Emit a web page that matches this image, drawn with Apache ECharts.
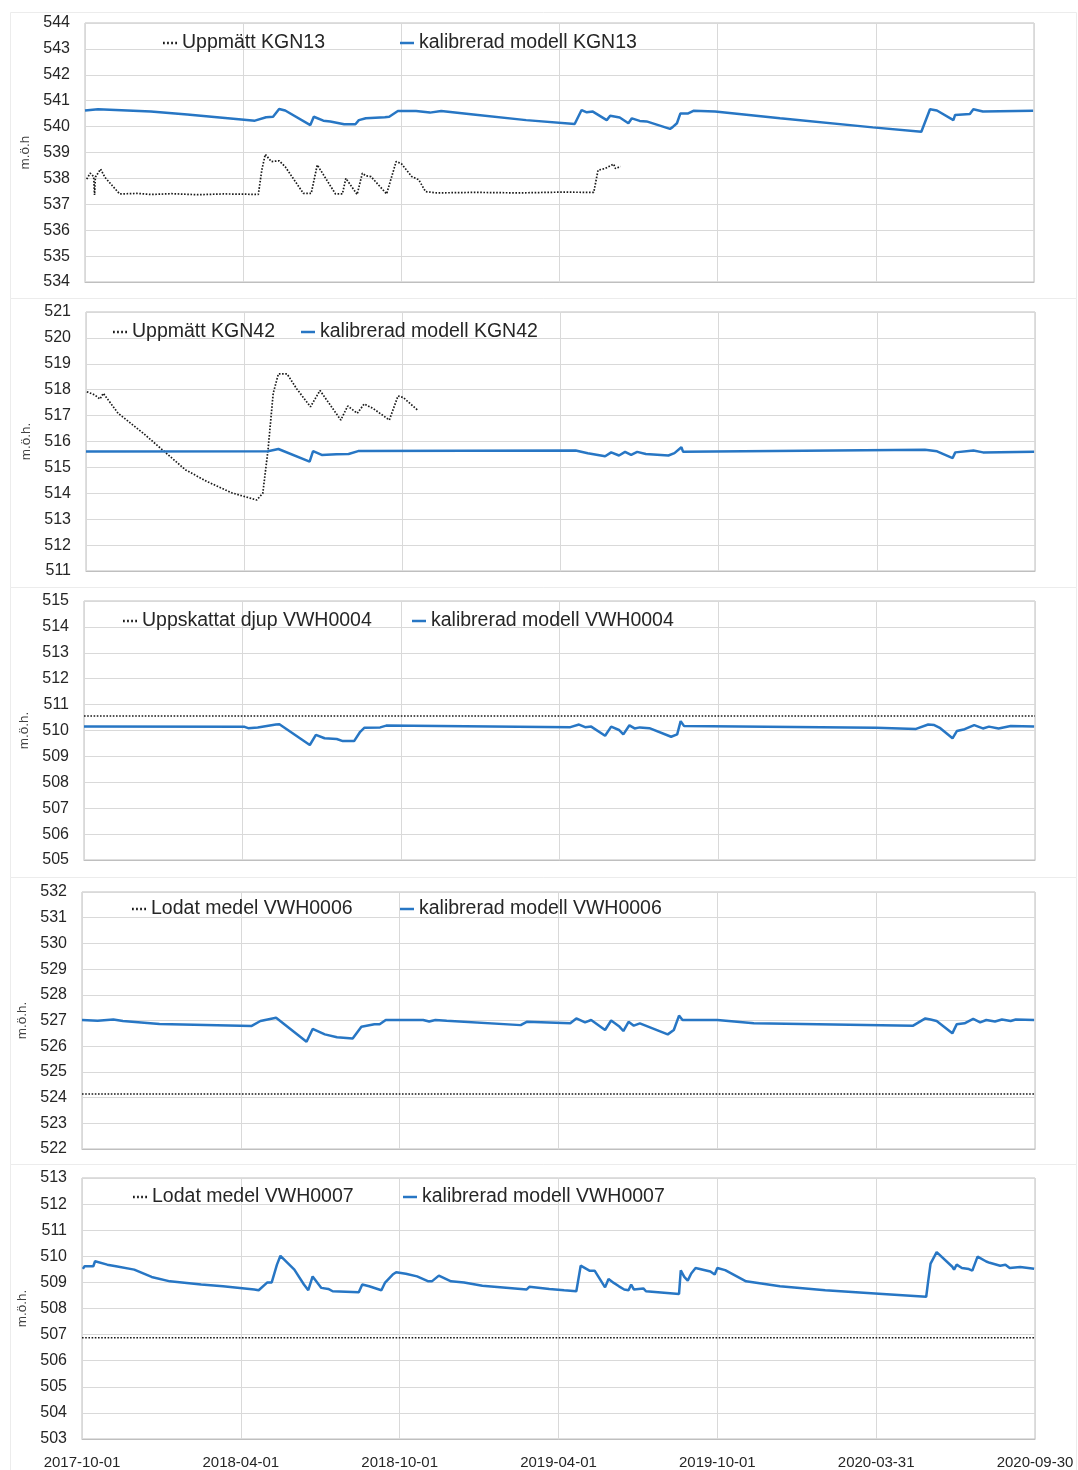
<!DOCTYPE html>
<html>
<head>
<meta charset="utf-8">
<script src="https://cdn.jsdelivr.net/npm/echarts@6/dist/echarts.min.js"></script>
<style>
html,body{margin:0;padding:0;background:#fff;}
#c{width:1078px;height:1470px;}
</style>
</head>
<body>
<div id="c"></div>
<script>
// x values are days since 2017-10-01
const startDate = Date.UTC(2017, 9, 1);
const xTickDates = ['2017-10-01','2018-04-01','2018-10-01','2019-04-01','2019-10-01','2020-03-31','2020-09-30'];

// Panel 1: KGN13
const kgn13Measured = [[2,537.97],[6,538.20],[10,538.07],[11,537.36],[12,538.05],[13,538.05],[18,538.36],[23,538.04],[40,537.40],[60,537.42],[76,537.38],[100,537.41],[130,537.37],[160,537.40],[185,537.39],[200,537.38],[204,538.32],[208,538.93],[215,538.65],[224,538.68],[231,538.45],[252,537.42],[261,537.42],[268,538.52],[289,537.40],[297,537.40],[301,538.00],[314,537.38],[320,538.20],[324,538.10],[330,538.07],[348,537.40],[359,538.65],[365,538.57],[377,538.07],[385,537.95],[393,537.49],[406,537.44],[450,537.46],[500,537.44],[550,537.47],[587,537.46],[592,538.32],[600,538.38],[610,538.55],[612,538.38],[618,538.46]];
const kgn13Model = [[0,540.62],[15,540.67],[76,540.58],[118,540.47],[196,540.23],[209,540.36],[217,540.38],[224,540.68],[231,540.62],[260,540.06],[264,540.38],[275,540.23],[283,540.20],[299,540.09],[312,540.09],[316,540.25],[324,540.32],[346,540.36],[351,540.38],[361,540.60],[382,540.60],[398,540.54],[411,540.60],[448,540.47],[509,540.25],[565,540.10],[573,540.64],[579,540.55],[586,540.58],[602,540.25],[606,540.42],[617,540.35],[627,540.13],[631,540.32],[640,540.22],[648,540.20],[675,539.91],[678,539.98],[683,540.13],[687,540.51],[696,540.51],[702,540.61],[727,540.58],[729,540.61],[802,540.32],[909,539.97],[965,539.80],[975,540.67],[983,540.62],[1002,540.25],[1004,540.45],[1021,540.49],[1025,540.67],[1036,540.58],[1094,540.61]];

// Panel 2: KGN42
const kgn42Measured = [[1,517.92],[10,517.80],[16,517.64],[20,517.86],[37,517.09],[66,516.32],[86,515.74],[115,514.90],[140,514.45],[168,514.02],[197,513.74],[204,514.00],[210,515.67],[216,517.86],[222,518.61],[232,518.61],[243,518.04],[259,517.34],[270,517.97],[294,516.83],[302,517.37],[313,517.09],[321,517.45],[331,517.28],[350,516.83],[360,517.76],[366,517.70],[383,517.20]];
const kgn42Model = [[0,515.61],[210,515.62],[222,515.71],[258,515.22],[262,515.63],[272,515.48],[289,515.51],[303,515.52],[314,515.63],[565,515.65],[579,515.55],[599,515.43],[606,515.58],[615,515.46],[622,515.60],[629,515.48],[636,515.60],[646,515.52],[672,515.46],[679,515.55],[687,515.78],[689,515.60],[968,515.68],[982,515.62],[1000,515.36],[1003,515.58],[1024,515.65],[1035,515.58],[1094,515.60]];

// Panel 3: VWH0004
const vwh0004Estimated = 510.56;
const vwh0004Model = [[0,510.15],[185,510.14],[189,510.09],[200,510.12],[221,510.23],[225,510.24],[260,509.44],[267,509.83],[277,509.70],[291,509.67],[298,509.59],[311,509.59],[318,509.95],[323,510.11],[341,510.12],[348,510.19],[560,510.13],[570,510.23],[577,510.13],[584,510.15],[600,509.80],[607,510.15],[616,510.02],[621,509.85],[628,510.20],[634,510.08],[640,510.12],[651,510.09],[676,509.76],[683,509.85],[687,510.36],[691,510.17],[912,510.11],[958,510.06],[972,510.23],[979,510.21],[986,510.09],[1000,509.70],[1005,509.98],[1014,510.05],[1025,510.21],[1035,510.08],[1042,510.15],[1053,510.08],[1067,510.17],[1094,510.15]];

// Panel 4: VWH0006
const vwh0006Measured = 524.14;
const vwh0006Model = [[0,527.02],[18,526.99],[36,527.04],[47,526.98],[89,526.86],[195,526.79],[205,526.98],[223,527.11],[258,526.17],[265,526.67],[279,526.46],[293,526.35],[311,526.30],[321,526.76],[336,526.85],[342,526.85],[349,527.02],[392,527.02],[399,526.96],[406,527.02],[419,526.99],[504,526.82],[511,526.95],[561,526.89],[568,527.08],[578,526.93],[585,527.02],[601,526.63],[608,527.00],[617,526.78],[622,526.59],[628,526.95],[634,526.80],[641,526.89],[673,526.46],[680,526.63],[686,527.19],[690,527.02],[730,527.02],[772,526.89],[955,526.80],[969,527.08],[975,527.04],[982,526.98],[1000,526.50],[1005,526.85],[1014,526.89],[1024,527.06],[1032,526.93],[1039,527.02],[1049,526.96],[1057,527.04],[1067,526.98],[1073,527.04],[1094,527.02]];

// Panel 5: VWH0007
const vwh0007Measured = 506.88;
const vwh0007Model = [[1,509.52],[3,509.62],[13,509.62],[15,509.81],[29,509.68],[39,509.62],[60,509.49],[80,509.21],[101,509.04],[137,508.92],[162,508.85],[198,508.73],[203,508.70],[213,509.00],[218,509.00],[224,509.68],[228,510.02],[244,509.49],[255,508.92],[260,508.70],[265,509.23],[275,508.79],[283,508.75],[288,508.66],[318,508.62],[322,508.92],[330,508.85],[344,508.70],[348,508.98],[357,509.30],[361,509.39],[372,509.33],[385,509.23],[398,509.04],[402,509.04],[410,509.26],[424,509.04],[439,509.00],[460,508.87],[511,508.73],[514,508.83],[537,508.75],[554,508.70],[556,508.66],[568,508.66],[573,509.64],[583,509.45],[589,509.45],[601,508.81],[605,509.13],[611,508.98],[617,508.85],[623,508.73],[628,508.70],[631,508.92],[634,508.73],[645,508.77],[648,508.66],[686,508.56],[688,509.46],[692,509.21],[696,509.07],[700,509.34],[705,509.55],[722,509.42],[727,509.30],[730,509.55],[739,509.47],[763,509.04],[802,508.85],[854,508.70],[920,508.56],[970,508.45],[972,508.98],[975,509.72],[982,510.16],[1000,509.60],[1002,509.49],[1005,509.68],[1011,509.55],[1019,509.51],[1023,509.45],[1029,509.99],[1039,509.80],[1043,509.75],[1055,509.64],[1061,509.68],[1066,509.55],[1078,509.59],[1094,509.52]];

const panels = [
  {dotName:'Uppmätt KGN13', modelName:'kalibrerad modell KGN13', dot:kgn13Measured, model:kgn13Model, yMin:534, yMax:544, yName:'m.ö.h',
   grid:{left:85,right:44,top:23,height:259}, legDot:163, legModel:400, legY:33},
  {dotName:'Uppmätt KGN42', modelName:'kalibrerad modell KGN42', dot:kgn42Measured, model:kgn42Model, yMin:511, yMax:521, yName:'m.ö.h.',
   grid:{left:86,right:43,top:312,height:259}, legDot:113, legModel:301, legY:322},
  {dotName:'Uppskattat djup VWH0004', modelName:'kalibrerad modell VWH0004', dot:vwh0004Estimated, model:vwh0004Model, yMin:505, yMax:515, yName:'m.ö.h.',
   grid:{left:84,right:43,top:601,height:259}, legDot:123, legModel:412, legY:611},
  {dotName:'Lodat medel VWH0006', modelName:'kalibrerad modell VWH0006', dot:vwh0006Measured, model:vwh0006Model, yMin:522, yMax:532, yName:'m.ö.h.',
   grid:{left:82,right:43,top:892,height:257}, legDot:132, legModel:400, legY:899},
  {dotName:'Lodat medel VWH0007', modelName:'kalibrerad modell VWH0007', dot:vwh0007Measured, model:vwh0007Model, yMin:503, yMax:513, yName:'m.ö.h.',
   grid:{left:82,right:43,top:1178,height:262}, legDot:133, legModel:403, legY:1187}
];

const X_MAX = 1095;
const FONT = '"Liberation Sans", Arial, sans-serif';
const TXT = '#262626';
const BLUE = '#2776c4';

function fmtDate(v){
  const d = new Date(startDate + Math.floor(v + 1e-6) * 86400000);
  const m = String(d.getUTCMonth()+1).padStart(2,'0');
  const dd = String(d.getUTCDate()).padStart(2,'0');
  return d.getUTCFullYear() + '-' + m + '-' + dd;
}

const grids = [], xAxes = [], yAxes = [], series = [], legends = [];
panels.forEach((p, i) => {
  grids.push(Object.assign({show:true, borderColor:'#bfbfbf', borderWidth:1, backgroundColor:'transparent'}, p.grid));
  const last = i === panels.length - 1;
  xAxes.push({
    type:'value', gridIndex:i, min:0, max:X_MAX, interval:182.5,
    axisLine:{show:true, lineStyle:{color:'#bfbfbf', width:1}},
    axisTick:{show:false},
    splitLine:{show:true, lineStyle:{color:'#d9d9d9', width:1}},
    axisLabel:{show:last, fontFamily:FONT, fontSize:15, color:TXT, margin:16, formatter:fmtDate, showMinLabel:true, showMaxLabel:true}
  });
  yAxes.push({
    type:'value', gridIndex:i, min:p.yMin, max:p.yMax, interval:1,
    name:p.yName, nameLocation:'middle', nameGap:45, nameRotate:90,
    nameTextStyle:{fontFamily:FONT, fontSize:13.5, color:'#404040'},
    axisLine:{show:false}, axisTick:{show:false},
    splitLine:{show:true, lineStyle:{color:'#d9d9d9', width:1}},
    axisLabel:{fontFamily:FONT, fontSize:16, color:TXT, margin:15, lineHeight:16, padding:[7,0,0,0]}
  });
  const dotData = Array.isArray(p.dot) ? p.dot : [[0, p.dot], [X_MAX, p.dot]];
  series.push({
    name:p.dotName, type:'line', xAxisIndex:i, yAxisIndex:i, data:dotData,
    showSymbol:false, symbol:'none', silent:true, animation:false,
    lineStyle:{color:'#1a1a1a', width:1.7, type:[1.6,1.6]}, itemStyle:{color:'#1a1a1a'}
  });
  series.push({
    name:p.modelName, type:'line', xAxisIndex:i, yAxisIndex:i, data:p.model,
    showSymbol:false, symbol:'none', silent:true, animation:false,
    lineStyle:{color:BLUE, width:2.5}, itemStyle:{color:BLUE}
  });
  const legBase = {orient:'horizontal', padding:0, itemWidth:14, itemHeight:14, top:p.legY,
    textStyle:{fontFamily:FONT, fontSize:19.5, color:TXT}, selectedMode:false};
  legends.push(Object.assign({}, legBase, {left:p.legDot, data:[{name:p.dotName, icon:'path://M0,6 L1.5,6 L1.5,8 L0,8 Z M3.5,6 L5,6 L5,8 L3.5,8 Z M7,6 L8.5,6 L8.5,8 L7,8 Z M10.5,6 L12,6 L12,8 L10.5,8 Z', itemStyle:{color:'#1a1a1a'}}]}));
  legends.push(Object.assign({}, legBase, {left:p.legModel, data:[{name:p.modelName, icon:'path://M0,6 L14,6 L14,8.5 L0,8.5 Z', itemStyle:{color:BLUE}}]}));
});

const frames = [[12,286],[298,289],[587,290],[877,287],[1164,306]];
const graphics = frames.map(f => ({type:'rect', shape:{x:10.5, y:f[0]+0.5, width:1066, height:f[1]}, style:{fill:null, stroke:'#ececec', lineWidth:1}, silent:true, z:-1}));

const chart = echarts.init(document.getElementById('c'), null, {renderer:'canvas'});
chart.setOption({
  animation:false,
  backgroundColor:'#fff',
  grid:grids, xAxis:xAxes, yAxis:yAxes, series:series, legend:legends, graphic:graphics
});
</script>
</body>
</html>
